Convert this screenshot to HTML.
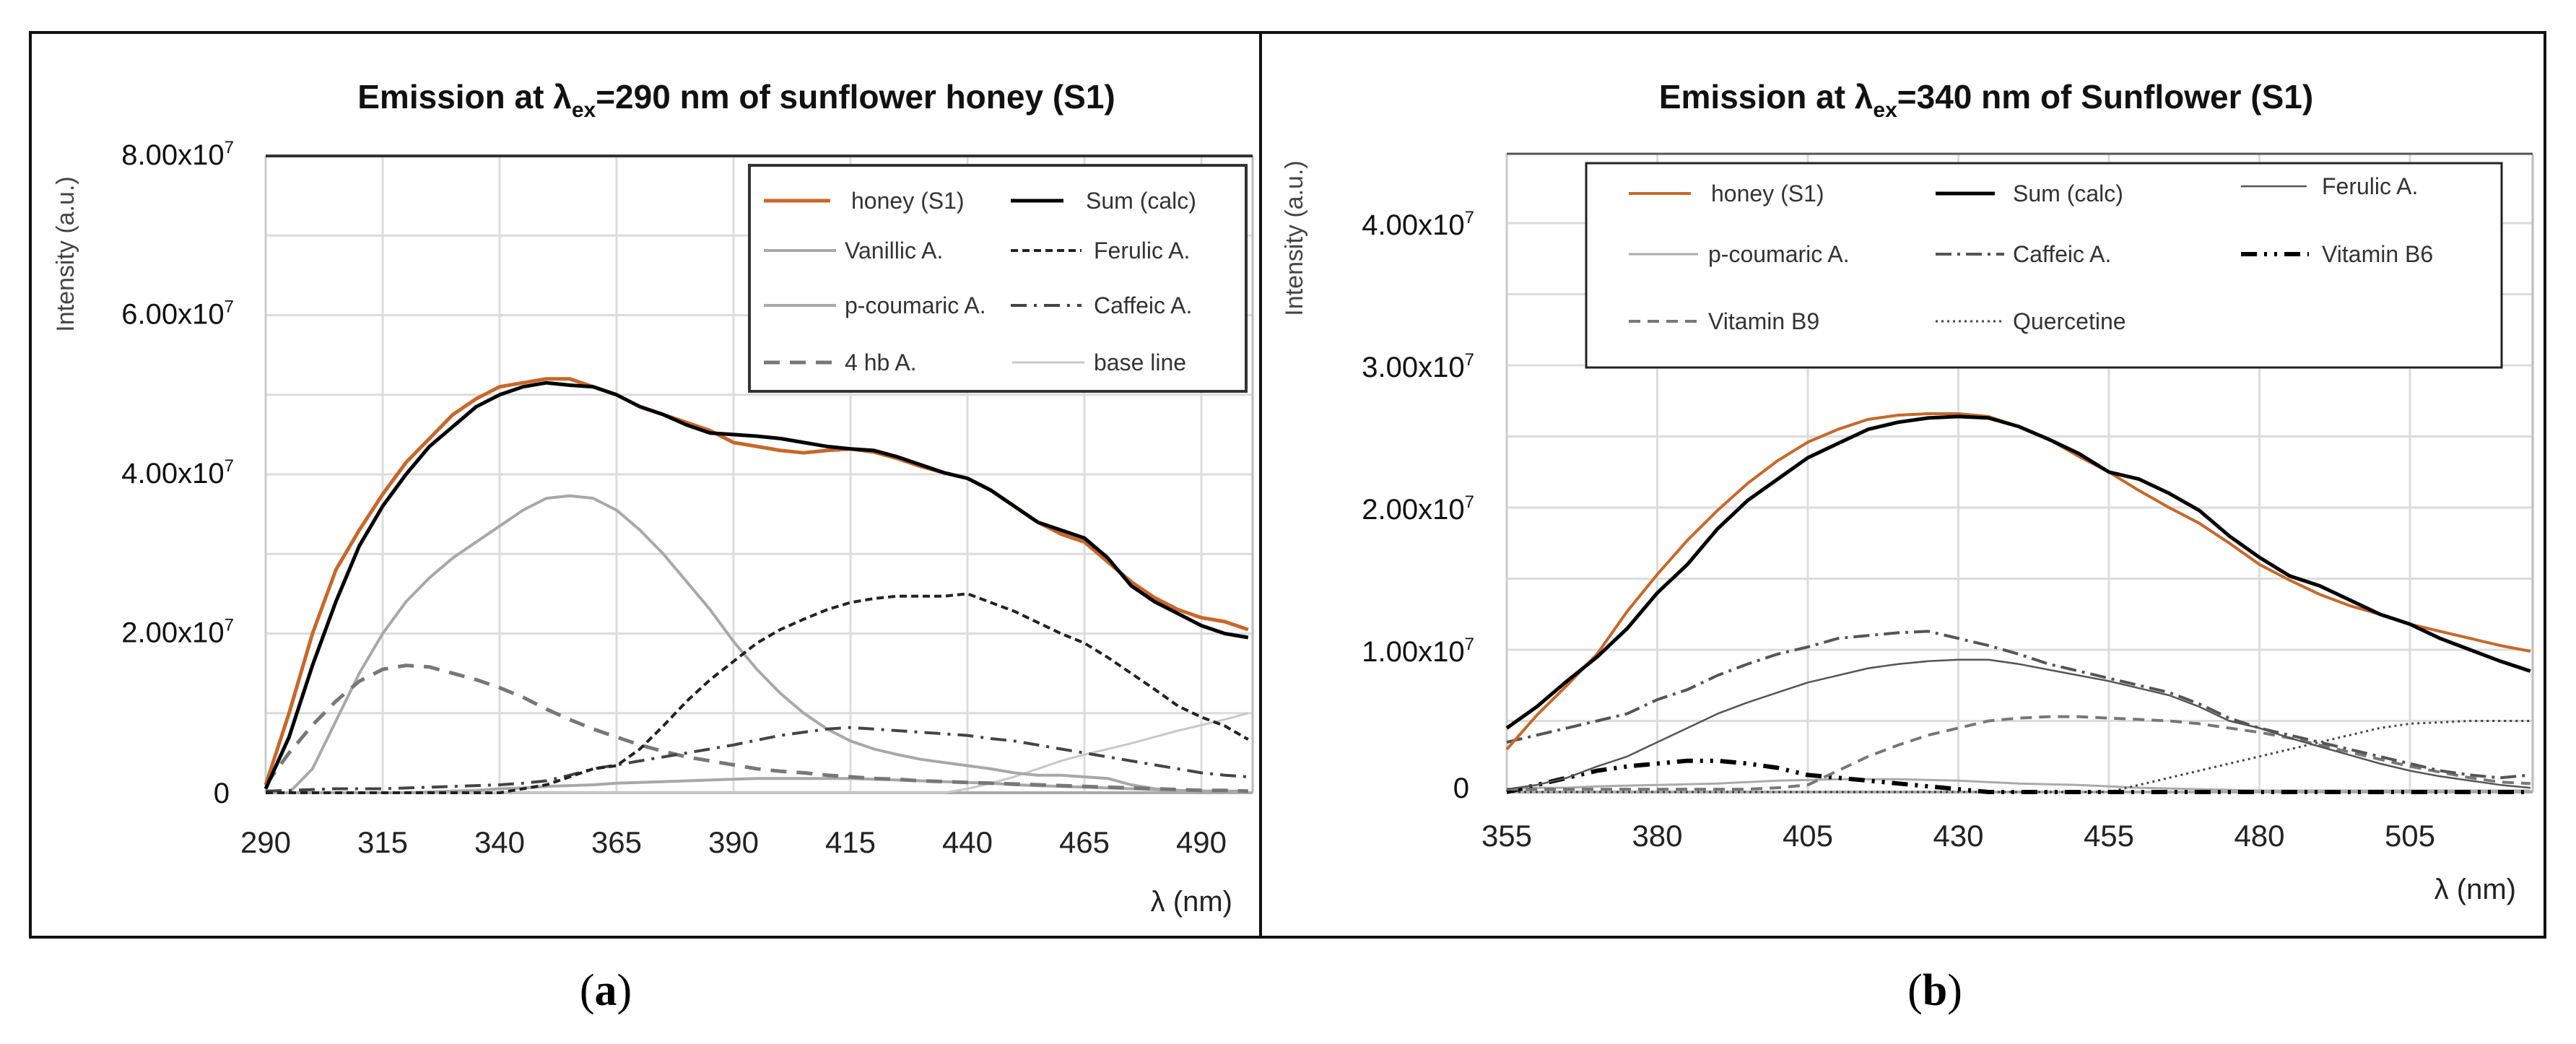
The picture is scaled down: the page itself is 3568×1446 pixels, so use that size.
<!DOCTYPE html>
<html><head><meta charset="utf-8">
<style>
html,body{margin:0;padding:0;background:#fff;}
svg{display:block;}
text{font-family:"Liberation Sans Narrow","Liberation Sans",sans-serif;}
</style></head>
<body>
<svg id="fig" width="3568" height="1446" viewBox="0 0 3568 1446" xmlns="http://www.w3.org/2000/svg">
  <rect x="0" y="0" width="3568" height="1446" fill="#fff"/>
  <rect x="42" y="45" width="3483" height="1253" fill="none" stroke="#111" stroke-width="4"/>
  <line x1="1746" y1="45" x2="1746" y2="1298" stroke="#111" stroke-width="4"/>
  <g id="panelA"></g>
  <g id="panelB"></g>
  <text x="839" y="1392" font-size="62" text-anchor="middle" style="font-family:'Liberation Serif',serif">(<tspan font-weight="bold">a</tspan>)</text>
  <text x="2680" y="1392" font-size="62" text-anchor="middle" style="font-family:'Liberation Serif',serif">(<tspan font-weight="bold">b</tspan>)</text>
</svg>
<script>
// ---------- Panel A data (intensity in units of 1e7) ----------
const wlA = [290,295,300,305,310,315,320,325,330,335,340,345,350,355,360,365,370,375,380,385,390,395,400,405,410,415,420,425,430,435,440,445,450,455,460,465,470,475,480,485,490,495,500];
const honeyA = [0.1,1.0,2.0,2.8,3.3,3.75,4.15,4.45,4.75,4.95,5.1,5.15,5.2,5.2,5.1,5.0,4.85,4.75,4.65,4.55,4.4,4.35,4.3,4.27,4.3,4.32,4.28,4.2,4.1,4.02,3.95,3.8,3.6,3.4,3.25,3.15,2.9,2.65,2.45,2.3,2.2,2.15,2.05];
const sumA = [0.05,0.7,1.6,2.4,3.1,3.6,4.0,4.35,4.6,4.85,5.0,5.1,5.15,5.12,5.1,5.0,4.85,4.75,4.62,4.52,4.5,4.48,4.45,4.4,4.35,4.32,4.3,4.22,4.12,4.02,3.95,3.8,3.6,3.4,3.3,3.2,2.95,2.6,2.4,2.25,2.1,2.0,1.95];
const vanillicA = [0,0,0.3,0.9,1.5,2.0,2.4,2.7,2.95,3.15,3.35,3.55,3.7,3.73,3.7,3.55,3.3,3.0,2.65,2.3,1.9,1.55,1.25,1.0,0.8,0.65,0.55,0.48,0.42,0.38,0.34,0.3,0.25,0.22,0.22,0.2,0.18,0.1,0.05,0.02,0.02,0.02,0.02];
const ferulicA = [0,0,0,0,0,0,0,0,0,0,0,0.05,0.1,0.2,0.3,0.34,0.55,0.84,1.15,1.42,1.65,1.88,2.05,2.18,2.3,2.39,2.44,2.47,2.47,2.47,2.5,2.39,2.28,2.14,2.0,1.88,1.7,1.5,1.3,1.09,0.95,0.84,0.67];
const caffeicA = [0.02,0.03,0.04,0.05,0.05,0.05,0.06,0.07,0.08,0.09,0.1,0.12,0.15,0.22,0.3,0.35,0.4,0.45,0.5,0.55,0.6,0.66,0.72,0.76,0.8,0.82,0.8,0.78,0.76,0.74,0.72,0.68,0.65,0.6,0.55,0.5,0.45,0.4,0.35,0.3,0.25,0.22,0.2];
const hbA = [0.1,0.5,0.85,1.15,1.4,1.55,1.6,1.58,1.5,1.42,1.32,1.2,1.05,0.92,0.8,0.7,0.6,0.52,0.45,0.4,0.35,0.3,0.27,0.25,0.22,0.2,0.18,0.17,0.15,0.14,0.13,0.12,0.11,0.1,0.09,0.08,0.07,0.06,0.05,0.04,0.03,0.03,0.02];
const coumaricA = [0,0,0,0,0,0,0,0.01,0.02,0.03,0.05,0.06,0.08,0.09,0.1,0.12,0.13,0.14,0.15,0.16,0.17,0.18,0.18,0.18,0.18,0.18,0.17,0.16,0.15,0.14,0.13,0.12,0.1,0.09,0.08,0.07,0.06,0.05,0.04,0.03,0.02,0.02,0.01];
const baselineA = [0,0,0,0,0,0,0,0,0,0,0,0,0,0,0,0,0,0,0,0,0,0,0,0,0,0,0,0,0,0,0.05,0.12,0.2,0.3,0.4,0.48,0.55,0.62,0.7,0.78,0.85,0.92,1.0];
const xTicksA = [290,315,340,365,390,415,440,465,490];
const yTicksA = [0,2,4,6,8];

// ---------- Panel B data ----------
const wlB = [355,360,365,370,375,380,385,390,395,400,405,410,415,420,425,430,435,440,445,450,455,460,465,470,475,480,485,490,495,500,505,510,515,520,525];
const honeyB = [0.3,0.54,0.75,0.97,1.27,1.53,1.77,1.98,2.17,2.33,2.46,2.55,2.62,2.65,2.66,2.66,2.64,2.57,2.48,2.36,2.25,2.12,2.0,1.89,1.75,1.6,1.49,1.39,1.31,1.25,1.18,1.13,1.08,1.03,0.99];
const sumB = [0.45,0.6,0.78,0.95,1.15,1.4,1.6,1.85,2.05,2.2,2.35,2.45,2.55,2.6,2.63,2.64,2.63,2.57,2.48,2.38,2.25,2.2,2.1,1.98,1.8,1.65,1.52,1.45,1.35,1.25,1.18,1.08,1.0,0.92,0.85];
const caffeicB = [0.35,0.4,0.45,0.5,0.55,0.65,0.72,0.82,0.9,0.97,1.02,1.08,1.1,1.12,1.13,1.08,1.03,0.97,0.9,0.85,0.8,0.75,0.7,0.62,0.52,0.45,0.4,0.35,0.3,0.25,0.2,0.15,0.12,0.1,0.12];
const ferulicB = [0.02,0.05,0.1,0.18,0.25,0.35,0.45,0.55,0.63,0.7,0.77,0.82,0.87,0.9,0.92,0.93,0.93,0.9,0.86,0.82,0.78,0.73,0.68,0.6,0.5,0.45,0.38,0.32,0.26,0.2,0.15,0.11,0.08,0.05,0.03];
const vitB9B = [0.02,0.02,0.02,0.02,0.02,0.02,0.02,0.02,0.02,0.03,0.05,0.15,0.25,0.33,0.4,0.45,0.5,0.52,0.53,0.53,0.52,0.51,0.5,0.48,0.45,0.42,0.38,0.33,0.28,0.23,0.18,0.14,0.1,0.07,0.06];
const vitB6B = [0,0.05,0.1,0.15,0.18,0.2,0.22,0.22,0.2,0.17,0.12,0.1,0.08,0.06,0.04,0.02,0,0,0,0,0,0,0,0,0,0,0,0,0,0,0,0,0,0,0];
const coumaricB = [0.02,0.03,0.03,0.04,0.045,0.05,0.055,0.06,0.07,0.08,0.085,0.09,0.09,0.09,0.085,0.08,0.07,0.06,0.055,0.05,0.04,0.03,0.025,0.02,0.015,0.01,0.01,0.01,0.01,0.01,0.01,0.01,0.01,0.01,0.01];
const quercB = [0,0,0,0,0,0,0,0,0,0,0,0,0,0,0,0,0,0,0,0,0,0.05,0.1,0.15,0.2,0.25,0.3,0.35,0.4,0.45,0.48,0.49,0.5,0.5,0.5];
const xTicksB = [355,380,405,430,455,480,505];
const yTicksB = [0,1,2,3,4];

const NS = "http://www.w3.org/2000/svg";
function mk(tag, attrs, parent) {
  const el = document.createElementNS(NS, tag);
  for (const k in attrs) el.setAttribute(k, attrs[k]);
  parent.appendChild(el);
  return el;
}

const xA = v => 368 + (v - 290) * 6.48;
const yA = v => 1098 - v * 110.25;
const xB = v => 2087 + (v - 355) * 8.34;
const yB = v => 1097 - v * 197;

function pathD(xs, ys, fx, fy) {
  return xs.map((w, i) => (i ? "L" : "M") + fx(w).toFixed(1) + "," + fy(ys[i]).toFixed(1)).join(" ");
}

function drawSeries(g, xs, ys, fx, fy, st, name) {
  const p = mk("path", {d: pathD(xs, ys, fx, fy), fill: "none", stroke: st.c, "stroke-width": st.w, "stroke-dasharray": st.d || "none", "stroke-linejoin": "round"}, g);
  
  
}

function drawLegendEntry(g, x1, x2, y, tx, label, st, name) {
  const grp = mk("g", {}, g);
  
  
  mk("line", {x1: x1, y1: y, x2: x2, y2: y, stroke: st.c, "stroke-width": st.w, "stroke-dasharray": st.d || "none"}, grp);
  const t = mk("text", {x: tx, y: y + 11, "font-size": 32, fill: "#333"}, grp);
  t.textContent = label;
}

function yLabel(g, x, y, fs, label, sup, name) {
  const t = mk("text", {x: x, y: y, "font-size": fs, "text-anchor": "end", fill: "#111"}, g);
  
  
  t.textContent = label;
  if (sup) {
    const s = mk("tspan", {dy: -16, "font-size": 24}, t);
    s.textContent = "7";
  }
}

(function () {
  const g = document.getElementById("panelA");
  const title = mk("text", {x: 1020, y: 150, "font-size": 46, "font-weight": "bold", "text-anchor": "middle", fill: "#111"}, g);
  
  
  title.innerHTML = 'Emission at λ<tspan dy="12" font-size="30">ex</tspan><tspan dy="-12">=290 nm of sunflower honey (S1)</tspan>';
  const grid = mk("g", {}, g);
  
  
  for (let v = 1; v <= 8; v++) mk("line", {x1: xA(290), x2: 1735, y1: yA(v), y2: yA(v), stroke: "#dcdcdc", "stroke-width": 3}, grid);
  xTicksA.forEach(t => { if (t > 290) mk("line", {x1: xA(t), x2: xA(t), y1: yA(0), y2: yA(8), stroke: "#dcdcdc", "stroke-width": 3}, grid); });
  mk("line", {x1: 1735, x2: 1735, y1: yA(0), y2: yA(8), stroke: "#bbb", "stroke-width": 3}, grid);
  mk("line", {x1: xA(290), x2: xA(290), y1: yA(0), y2: yA(8), stroke: "#ccc", "stroke-width": 3}, grid);
  mk("line", {x1: xA(290), x2: 1735, y1: yA(8), y2: yA(8), stroke: "#333", "stroke-width": 4}, grid);
  mk("line", {x1: xA(290), x2: 1735, y1: yA(0), y2: yA(0), stroke: "#aaa", "stroke-width": 4}, grid);
  yTicksA.forEach(v => {
    if (v === 0) yLabel(g, 318, yA(v) + 14, 40, "0", false, "y-tick-a-0");
    else yLabel(g, 324, yA(v) + 12, 40, v.toFixed(2) + "x10", true, "y-tick-a-" + v);
  });
  xTicksA.forEach(t => {
    const tx = mk("text", {x: xA(t), y: 1181, "font-size": 42, "text-anchor": "middle", fill: "#222"}, g);
    
    
    tx.textContent = t;
  });
  const yt = mk("text", {x: 0, y: 0, "font-size": 34, "text-anchor": "middle", fill: "#444", transform: "translate(102,352) rotate(-90)", style: "font-family:'Liberation Sans',sans-serif"}, g);
  
  
  yt.textContent = "Intensity (a.u.)";
  const xt = mk("text", {x: 1707, y: 1262, "font-size": 40, "text-anchor": "end", fill: "#222"}, g);
  
  
  xt.textContent = "λ (nm)";
  const S = {
    base: {c: "#c8c8c8", w: 3}, coum: {c: "#a8a8a8", w: 4}, van: {c: "#a8a8a8", w: 4},
    hb: {c: "#777", w: 5, d: "22 14"}, caf: {c: "#444", w: 4, d: "22 10 4 10"},
    fer: {c: "#222", w: 4, d: "10 6"}, sum: {c: "#000", w: 5}, honey: {c: "#c8672a", w: 5}
  };
  const sg = mk("g", {}, g);
  
  
  drawSeries(sg, wlA, baselineA, xA, yA, S.base, "series-a-baseline");
  drawSeries(sg, wlA, coumaricA, xA, yA, S.coum, "series-a-p-coumaric");
  drawSeries(sg, wlA, vanillicA, xA, yA, S.van, "series-a-vanillic");
  drawSeries(sg, wlA, hbA, xA, yA, S.hb, "series-a-4hb");
  drawSeries(sg, wlA, caffeicA, xA, yA, S.caf, "series-a-caffeic");
  drawSeries(sg, wlA, ferulicA, xA, yA, S.fer, "series-a-ferulic");
  drawSeries(sg, wlA, honeyA, xA, yA, S.honey, "series-a-honey");
  drawSeries(sg, wlA, sumA, xA, yA, S.sum, "series-a-sum");
  const lg = mk("g", {}, g);
  
  
  mk("rect", {x: 1038, y: 229, width: 688, height: 313, fill: "#fff", stroke: "#333", "stroke-width": 4}, lg);
  drawLegendEntry(lg, 1058, 1150, 278, 1179, "honey (S1)", S.honey, "legend-entry-honey");
  drawLegendEntry(lg, 1400, 1473, 278, 1504, "Sum (calc)", S.sum, "legend-entry-sum");
  drawLegendEntry(lg, 1058, 1158, 347, 1170, "Vanillic A.", S.van, "legend-entry-vanillic");
  drawLegendEntry(lg, 1400, 1498, 347, 1515, "Ferulic A.", S.fer, "legend-entry-ferulic");
  drawLegendEntry(lg, 1058, 1158, 423, 1170, "p-coumaric A.", S.coum, "legend-entry-p-coumaric");
  drawLegendEntry(lg, 1400, 1498, 423, 1515, "Caffeic A.", S.caf, "legend-entry-caffeic");
  drawLegendEntry(lg, 1058, 1158, 502, 1170, "4 hb A.", S.hb, "legend-entry-4hb");
  drawLegendEntry(lg, 1402, 1502, 502, 1515, "base line", S.base, "legend-entry-baseline");
})();

(function () {
  const g = document.getElementById("panelB");
  const title = mk("text", {x: 2751, y: 150, "font-size": 46, "font-weight": "bold", "text-anchor": "middle", fill: "#111"}, g);
  
  
  title.innerHTML = 'Emission at λ<tspan dy="12" font-size="30">ex</tspan><tspan dy="-12">=340 nm of Sunflower (S1)</tspan>';
  const grid = mk("g", {}, g);
  
  
  for (let v = 0.5; v <= 4.01; v += 0.5) mk("line", {x1: xB(355), x2: 3508, y1: yB(v), y2: yB(v), stroke: "#dcdcdc", "stroke-width": 3}, grid);
  xTicksB.forEach(t => { if (t > 355) mk("line", {x1: xB(t), x2: xB(t), y1: yB(0), y2: 213, stroke: "#dcdcdc", "stroke-width": 3}, grid); });
  mk("line", {x1: 3508, x2: 3508, y1: yB(0), y2: 213, stroke: "#bbb", "stroke-width": 3}, grid);
  mk("line", {x1: xB(355), x2: xB(355), y1: yB(0), y2: 213, stroke: "#ccc", "stroke-width": 3}, grid);
  mk("line", {x1: xB(355), x2: 3508, y1: 213, y2: 213, stroke: "#555", "stroke-width": 3}, grid);
  mk("line", {x1: xB(355), x2: 3508, y1: yB(0), y2: yB(0), stroke: "#aaa", "stroke-width": 4}, grid);
  yTicksB.forEach(v => {
    if (v === 0) yLabel(g, 2035, yB(v) + 8, 40, "0", false, "y-tick-b-0");
    else yLabel(g, 2042, yB(v) + 16, 40, v.toFixed(2) + "x10", true, "y-tick-b-" + v);
  });
  xTicksB.forEach(t => {
    const tx = mk("text", {x: xB(t), y: 1172, "font-size": 42, "text-anchor": "middle", fill: "#222"}, g);
    
    
    tx.textContent = t;
  });
  const yt = mk("text", {x: 0, y: 0, "font-size": 34, "text-anchor": "middle", fill: "#444", transform: "translate(1804,330) rotate(-90)", style: "font-family:'Liberation Sans',sans-serif"}, g);
  
  
  yt.textContent = "Intensity (a.u.)";
  const xt = mk("text", {x: 3485, y: 1245, "font-size": 40, "text-anchor": "end", fill: "#222"}, g);
  
  
  xt.textContent = "λ (nm)";
  const S = {
    honey: {c: "#c8672a", w: 4}, sum: {c: "#000", w: 5}, fer: {c: "#555", w: 2.5},
    coum: {c: "#aaa", w: 3}, caf: {c: "#555", w: 4, d: "22 8 4 8"}, b6: {c: "#000", w: 6, d: "22 10 4 10 4 10"},
    b9: {c: "#777", w: 4, d: "16 10"}, quer: {c: "#444", w: 3, d: "3 5"}
  };
  const sg = mk("g", {}, g);
  
  
  drawSeries(sg, wlB, coumaricB, xB, yB, S.coum, "series-b-p-coumaric");
  drawSeries(sg, wlB, quercB, xB, yB, S.quer, "series-b-quercetine");
  drawSeries(sg, wlB, vitB6B, xB, yB, S.b6, "series-b-vitamin-b6");
  drawSeries(sg, wlB, vitB9B, xB, yB, S.b9, "series-b-vitamin-b9");
  drawSeries(sg, wlB, ferulicB, xB, yB, S.fer, "series-b-ferulic");
  drawSeries(sg, wlB, caffeicB, xB, yB, S.caf, "series-b-caffeic");
  drawSeries(sg, wlB, honeyB, xB, yB, S.honey, "series-b-honey");
  drawSeries(sg, wlB, sumB, xB, yB, S.sum, "series-b-sum");
  const lg = mk("g", {}, g);
  
  
  mk("rect", {x: 2197, y: 226, width: 1268, height: 283, fill: "#fff", stroke: "#222", "stroke-width": 3}, lg);
  drawLegendEntry(lg, 2256, 2342, 268, 2370, "honey (S1)", S.honey, "legend-entry-b-honey");
  drawLegendEntry(lg, 2681, 2763, 268, 2788, "Sum (calc)", S.sum, "legend-entry-b-sum");
  drawLegendEntry(lg, 3104, 3195, 258, 3216, "Ferulic A.", S.fer, "legend-entry-b-ferulic");
  drawLegendEntry(lg, 2256, 2352, 352, 2366, "p-coumaric A.", S.coum, "legend-entry-b-p-coumaric");
  drawLegendEntry(lg, 2681, 2776, 352, 2788, "Caffeic A.", S.caf, "legend-entry-b-caffeic");
  drawLegendEntry(lg, 3104, 3198, 352, 3216, "Vitamin B6", S.b6, "legend-entry-b-vitamin-b6");
  drawLegendEntry(lg, 2256, 2352, 445, 2366, "Vitamin B9", S.b9, "legend-entry-b-vitamin-b9");
  drawLegendEntry(lg, 2681, 2776, 445, 2788, "Quercetine", S.quer, "legend-entry-b-quercetine");
})();
</script>
</body></html>
